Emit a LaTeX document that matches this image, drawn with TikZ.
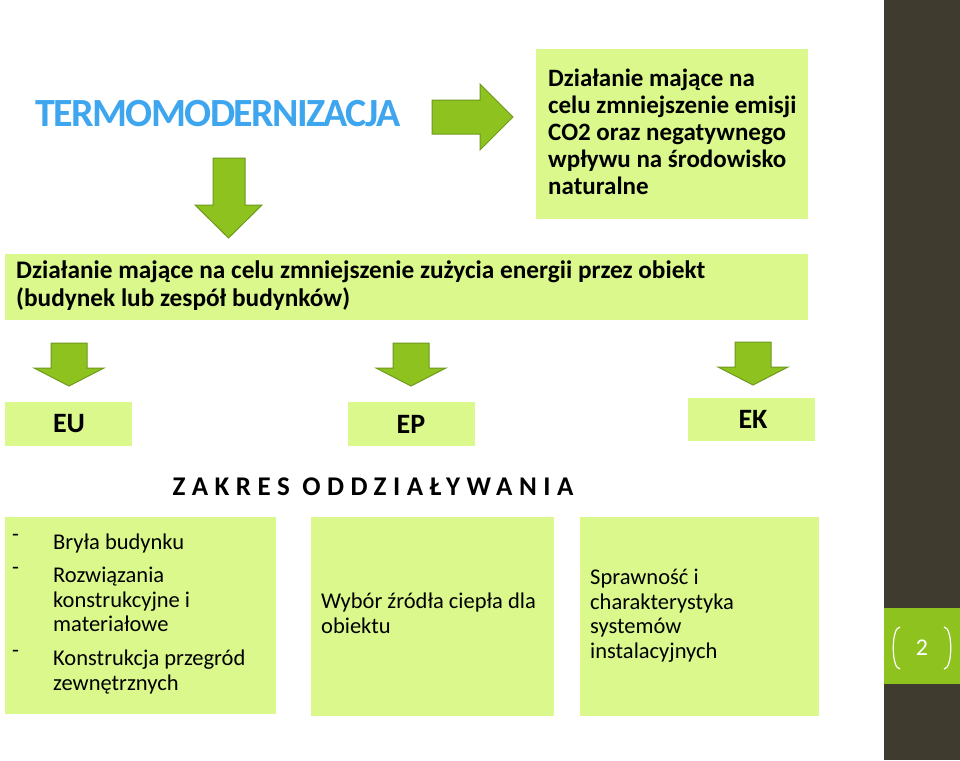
\documentclass[tikz,border=0pt]{standalone}
\usepackage{fontspec}
\setmainfont{Carlito}
\begin{document}
\begin{tikzpicture}[x=1pt,y=-1pt,
  box/.style={fill=boxg,draw=none},
  arr/.style={fill=arrg,draw=arrd,line width=1pt,line join=miter},
  txt/.style={anchor=north west,align=left,inner sep=0pt,font=\fontsize{22.5}{24.5}\selectfont},
  btxt/.style={anchor=north west,align=left,inner sep=0pt,font=\fontsize{25}{27}\selectfont\bfseries}]
\definecolor{boxg}{HTML}{DAF88C}
\definecolor{arrg}{HTML}{8DC21F}
\definecolor{arrd}{HTML}{6E9A1E}
\definecolor{dark}{HTML}{3F3C2F}
\definecolor{ttl}{HTML}{3EA6EE}
\useasboundingbox (0,0) rectangle (960,760);
\fill[white] (0,0) rectangle (960,760);
% side bar
\fill[dark] (884,0) rectangle (960,760);
\fill[arrg] (884,608) rectangle (960,684);
\node[text=white,font=\fontsize{24}{24}\selectfont] (pg) at (922,648) {2};
\draw[white,line width=1.2pt] (900,627) .. controls (891,627) and (891,669) .. (900,669);
\draw[white,line width=1.2pt] (944,627) .. controls (953,627) and (953,669) .. (944,669);
% title
\node[text=ttl,font=\fontsize{40}{40}\selectfont\bfseries,inner sep=0pt] (title) at (218,114) {\addfontfeature{LetterSpace=-4}TERMOMODERNIZACJA};
% arrows
\draw[arr] (432,100) -- (480,100) -- (480,84) -- (513,117) -- (480,150) -- (480,134) -- (432,134) -- cycle;
\draw[arr] (213,158) -- (245,158) -- (245,205) -- (262,205) -- (228.5,238) -- (195,205) -- (213,205) -- cycle;
\foreach \cx/\ty in {69/343,411/343,753/342}{
  \draw[arr] (\cx-18,\ty) -- (\cx+18,\ty) -- (\cx+18,\ty+25) -- (\cx+35,\ty+25) -- (\cx,\ty+43) -- (\cx-35,\ty+25) -- (\cx-18,\ty+25) -- cycle;}
% boxes
\fill[box] (536,49) rectangle (808,219);
\node[btxt] (co2) at (548,69) {Działanie mające na\\celu zmniejszenie emisji\\CO2 oraz negatywnego\\wpływu na środowisko\\naturalne};
\fill[box] (5,254) rectangle (808,320);
\node[btxt,font=\fontsize{25.3}{28}\selectfont\bfseries] (obj) at (16,261) {Działanie mające na celu zmniejszenie zużycia energii przez obiekt\\(budynek lub zespół budynków)};
\fill[box] (5,402) rectangle (132,446);
\node[font=\fontsize{28}{28}\selectfont\bfseries] (eu) at (69,424) {EU};
\fill[box] (348,402) rectangle (475,446);
\node[font=\fontsize{28}{28}\selectfont\bfseries] (ep) at (411,424) {EP};
\fill[box] (688,398) rectangle (815,441);
\node[font=\fontsize{28}{28}\selectfont\bfseries] (ek) at (753,419) {EK};
\node[font=\fontsize{27}{27}\selectfont\bfseries] (zak) at (373,487) {\addfontfeature{LetterSpace=24}ZAKRES ODDZIAŁYWANIA};
\fill[box] (5,517) rectangle (276,714);
\fill[box] (311,517) rectangle (554,716);
\fill[box] (580,517) rectangle (819,716);
\node[txt] (d1) at (12,534) {-};
\node[txt] (b1) at (53,534) {Bryła budynku};
\node[txt] (d2) at (12,567) {-};
\node[txt] (b2) at (53,567) {Rozwiązania\\konstrukcyjne i\\materiałowe};
\node[txt] (d3) at (12,650) {-};
\node[txt] (b3) at (53,650) {Konstrukcja przegród\\zewnętrznych};
\node[txt] (w) at (321,593) {Wybór źródła ciepła dla\\obiektu};
\node[txt] (s) at (590,569) {Sprawność i\\charakterystyka\\systemów\\instalacyjnych};
\end{tikzpicture}
\end{document}
